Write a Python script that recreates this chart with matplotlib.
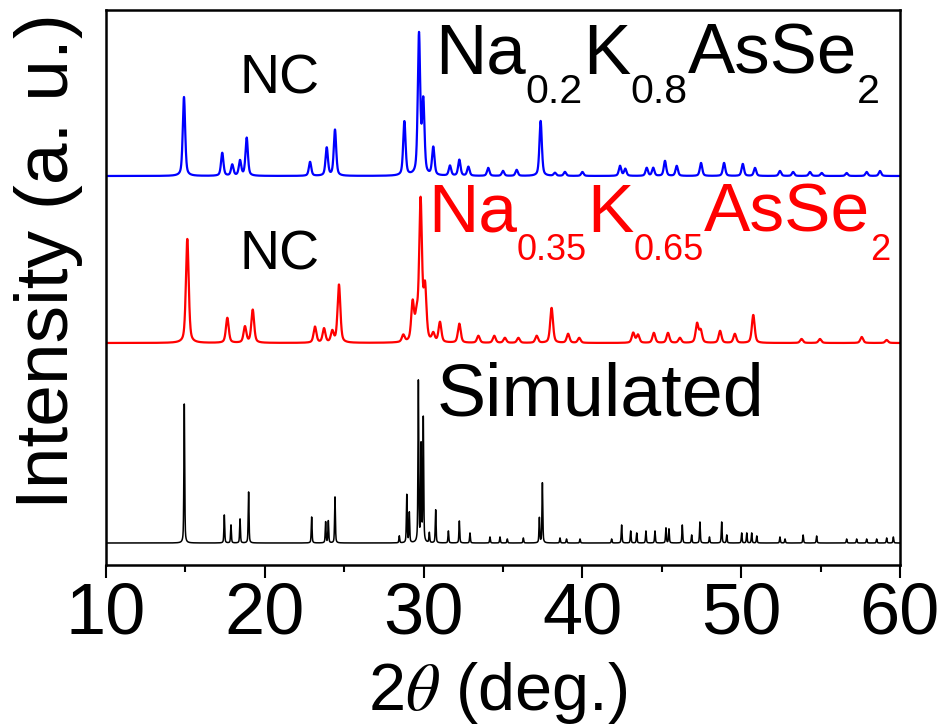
import numpy as np
import matplotlib.pyplot as plt
from matplotlib.ticker import MultipleLocator

plt.rcParams['font.family'] = ['Liberation Sans', 'DejaVu Sans']
plt.rcParams['mathtext.fontset'] = 'stix'

# peak positions (2theta, deg) and heights (arb. units) for each pattern
blue_pos = [14.91, 17.32, 17.95, 18.44, 18.86, 22.85, 23.90, 24.42, 28.79, 29.71,
            29.98, 30.61, 31.66, 32.25, 32.82, 34.07, 35.00, 35.86, 37.37, 38.27,
            38.90, 40.00, 42.37, 42.70, 44.05, 44.46, 45.20, 45.94, 47.47, 48.92,
            50.10, 50.87, 52.44, 53.27, 54.33, 55.07, 56.64, 57.90, 58.74]
blue_int = [79, 23, 11, 15, 38, 14, 28, 46, 54, 140,
            72, 28, 10, 16, 9, 8, 5, 6, 55, 3,
            4, 4, 10, 7, 8, 8, 15, 10, 13, 13,
            12, 8, 5, 4, 4, 3, 3, 4, 5]

red_pos = [15.12, 17.64, 18.75, 19.24, 23.16, 23.73, 24.25, 24.67, 28.72, 29.31,
           29.56, 29.81, 30.09, 30.61, 31.03, 32.25, 33.45, 34.45, 35.12, 35.97,
           37.12, 38.06, 39.10, 39.80, 43.20, 43.50, 44.50, 45.39, 46.14, 47.22,
           47.45, 48.67, 49.60, 50.76, 53.80, 54.96, 57.59, 59.16]
red_int = [104, 25, 16, 33, 16, 14, 11, 58, 7, 38,
           22, 140, 52, 8, 20, 19, 7, 7, 5, 5,
           7, 35, 9, 5, 10, 8, 10, 10, 5, 19,
           12, 12, 9, 28, 4, 4, 6, 3]

sim_pos = [14.93, 17.45, 17.87, 18.44, 18.98, 22.95, 23.83, 24.00, 24.42, 28.47,
           28.94, 29.10, 29.67, 29.84, 29.98, 30.36, 30.76, 31.56, 32.25, 32.92,
           34.18, 34.81, 35.27, 36.28, 37.29, 37.48, 38.59, 39.00, 39.85, 41.84,
           42.47, 43.04, 43.42, 44.00, 44.57, 45.26, 45.45, 46.29, 46.88, 47.40,
           48.00, 48.77, 49.09, 50.03, 50.35, 50.66, 50.98, 52.44, 52.76, 53.90,
           54.75, 56.64, 57.27, 57.90, 58.53, 59.16, 59.58]
sim_int = [139, 28, 18, 24, 51, 26, 21, 22, 46, 7,
           48, 30, 161, 96, 124, 10, 33, 12, 22, 10,
           6, 6, 4, 5, 25, 60, 5, 4, 4, 4,
           18, 12, 10, 12, 12, 15, 14, 18, 8, 21,
           6, 21, 8, 10, 10, 10, 7, 6, 4, 8,
           7, 4, 4, 4, 4, 5, 6]

# vertical offsets of the stacked patterns
blue_base = 389
red_base = 222
sim_base = 22


def pattern(x, pos, inten, fwhm, eta=0.5):
    """Pseudo-Voigt profile summed over a list of peaks."""
    y = np.zeros_like(x)
    hw = fwhm / 2
    for p, h in zip(pos, inten):
        d = x - p
        lor = 1 / (1 + (d / hw) ** 2)
        gau = np.exp(-np.log(2) * (d / hw) ** 2)
        y += h * (eta * lor + (1 - eta) * gau)
    return y


def formula(ax, x, y, parts, size, color, sub_scale=0.56, sub_drop=-16):
    """Write a chemical formula piece by piece with lowered subscripts."""
    first = ax.text(x, y, parts[0][0], fontsize=size, color=color, va='bottom')
    prev = first
    for s, is_sub in parts[1:]:
        fs = size * sub_scale if is_sub else size
        dy = sub_drop if is_sub else 0
        prev = ax.annotate(s, xy=(1, 0), xycoords=(prev, first),
                           xytext=(0, dy), textcoords='offset points',
                           fontsize=fs, color=color, va='bottom', ha='left')


x = np.arange(10, 60.001, 0.005)

fig = plt.figure(figsize=(9.41, 7.25), dpi=100)
ax = fig.add_axes([106 / 941, 1 - 565 / 725, 794 / 941, 555 / 725])

ax.plot(x, blue_base + pattern(x, blue_pos, blue_int, 0.18), color='#0000ff', lw=1.6)
ax.plot(x, red_base + pattern(x, red_pos, red_int, 0.21), color='#ff0000', lw=1.6)
ax.plot(x, sim_base + pattern(x, sim_pos, sim_int, 0.06), color='black', lw=1.1)

ax.set_xlim(10, 60)
ax.set_ylim(0, 555)
ax.set_yticks([])
ax.xaxis.set_major_locator(MultipleLocator(10))
ax.xaxis.set_minor_locator(MultipleLocator(5))
ax.tick_params(axis='x', which='major', direction='out', length=9, width=1.5,
               labelsize=52, pad=3)
ax.tick_params(axis='x', which='minor', direction='out', length=5, width=1.5)
for sp in ax.spines.values():
    sp.set_linewidth(1.8)

fig.text(498 / 941, 15 / 725, '2$\\theta$ (deg.)', fontsize=48,
         ha='center', va='baseline')
fig.text(49 / 941, 1 - 261 / 725, 'Intensity (a. u.)', rotation=90,
         fontsize=54, ha='center', va='center')

ax.text(20.9, 485, 'NC', fontsize=40, ha='center', va='center')
ax.text(20.9, 309, 'NC', fontsize=40, ha='center', va='center')

formula(ax, 30.72, 476, [('Na', 0), ('0.2', 1), ('K', 0), ('0.8', 1),
                         ('AsSe', 0), ('2', 1)], 51, 'black', sub_scale=0.58)
formula(ax, 30.28, 319, [('Na', 0), ('0.35', 1), ('K', 0), ('0.65', 1),
                         ('AsSe', 0), ('2', 1)], 50, '#ff0000', sub_scale=0.52)
ax.text(30.84, 150, 'Simulated', fontsize=53, va='baseline')

fig.savefig('out.png', dpi=100)
